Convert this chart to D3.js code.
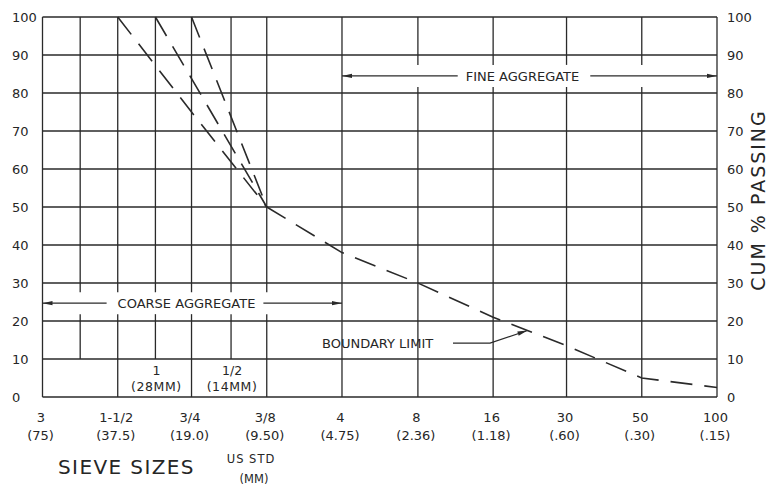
<!DOCTYPE html>
<html><head><meta charset="utf-8">
<script src="https://cdn.jsdelivr.net/npm/d3@7/dist/d3.min.js"></script>
<style>
html,body{margin:0;padding:0;background:#fff;}
svg{display:block;}
text{font-family:"DejaVu Sans",sans-serif;fill:#262626;}
</style></head><body>
<svg id="chart" width="771" height="488"></svg>
<script>
// ---- data ----
const sieveNames = ["3","1-1/2","3/4","3/8","4","8","16","30","50","100"];
const sieveMM = [75, 37.5, 19.0, 9.50, 4.75, 2.36, 1.18, 0.60, 0.30, 0.15];
const mmLabels = ["(75)","(37.5)","(19.0)","(9.50)","(4.75)","(2.36)","(1.18)","(.60)","(.30)","(.15)"];
const midSieveMM = [53, 26.5, 13.2];          // 2", 1", 1/2" intermediate grid lines
const midSieveNames = ["", "1", "1/2"];
const midSieveMMLabels = ["", "(28MM)", "(14MM)"];
const percentTicks = [0,10,20,30,40,50,60,70,80,90,100];

// coarse limits (sieve mm, cumulative % passing)
const limitASizes = [37.5, 19.0, 9.50];  const limitAPassing = [100, 75, 50];
const limitBSizes = [26.5, 9.50];        const limitBPassing = [100, 50];
const limitCSizes = [19.0, 9.50];        const limitCPassing = [100, 50];
// combined boundary limit
const boundarySizes = [9.50, 4.75, 2.36, 1.18, 0.60, 0.30, 0.15];
const boundaryPassing = [50, 38, 30, 21, 13.5, 5, 2.5];

// annotations (data coordinates)
const fineBand = {label:"FINE AGGREGATE", from:4.75, to:0.15, pct:84.5};
const coarseBand = {label:"COARSE AGGREGATE", from:75, to:4.75, pct:24.7};
const boundaryNote = {label:"BOUNDARY LIMIT", textPct:14.2, tipSize:0.86};

// ---- drawing ----
const ink = "#2a2a2a";
const x = d3.scaleLog().domain([75, 0.15]).range([42.5, 717]);
const y = d3.scaleLinear().domain([0, 100]).range([397, 17]);
const svg = d3.select("#chart");

// horizontal grid
svg.append("g").selectAll("line").data(percentTicks).join("line")
  .attr("x1", x(75)).attr("x2", x(0.15))
  .attr("y1", d => y(d)).attr("y2", d => y(d))
  .attr("stroke", ink).attr("stroke-width", 1.6);

// vertical grid with gaps at annotation bands
const bands = [fineBand, coarseBand];
const gapHalf = 11;
function segs(size, pBottom) {
  let s = [[y(100), y(pBottom)]];
  const px = x(size);
  bands.forEach(b => {
    const a = Math.min(x(b.from), x(b.to)), c = Math.max(x(b.from), x(b.to));
    if (px > a + 1 && px < c - 1) {
      const g0 = y(b.pct) - gapHalf, g1 = y(b.pct) + gapHalf;
      const out = [];
      s.forEach(([t, bt]) => {
        if (g1 <= t || g0 >= bt) out.push([t, bt]);
        else { if (g0 > t) out.push([t, g0]); if (g1 < bt) out.push([g1, bt]); }
      });
      s = out;
    }
  });
  return s.map(v => ({x: px, y1: v[0], y2: v[1]}));
}
const vsegs = [];
sieveMM.forEach(m => vsegs.push(...segs(m, 0)));
midSieveMM.forEach(m => vsegs.push(...segs(m, 10)));
svg.append("g").selectAll("line").data(vsegs).join("line")
  .attr("x1", d => d.x).attr("x2", d => d.x)
  .attr("y1", d => d.y1).attr("y2", d => d.y2)
  .attr("stroke", ink).attr("stroke-width", 1.3);

// y axes
const yl = svg.append("g").call(d3.axisLeft(y).tickValues(percentTicks).tickSize(0));
yl.select(".domain").remove();
yl.selectAll("text").attr("x", 12).attr("text-anchor", "start")
  .style("font-family", "DejaVu Sans").style("font-size", "13px").attr("fill", ink);
const yr = svg.append("g").call(d3.axisRight(y).tickValues(percentTicks).tickSize(0));
yr.select(".domain").remove();
yr.selectAll("text").attr("x", 727).attr("text-anchor", "start")
  .style("font-family", "DejaVu Sans").style("font-size", "13px").attr("fill", ink);

// x axis (two rows)
const xa = svg.append("g").attr("transform", "translate(-2,0)")
  .call(d3.axisBottom(x).tickValues(sieveMM).tickSize(0).tickFormat((d, i) => sieveNames[i]));
xa.select(".domain").remove();
xa.selectAll("text").attr("y", 0).attr("dy", null).attr("transform", "translate(0,422)")
  .style("font-family", "DejaVu Sans").style("font-size", "13px").attr("fill", ink);
svg.append("g").selectAll("text").data(sieveMM).join("text")
  .attr("x", d => x(d) - 2).attr("y", 440).attr("text-anchor", "middle")
  .style("font-size", "13px").text((d, i) => mmLabels[i]);

// inner sieve labels in bottom row
const midG = svg.append("g");
midSieveMM.forEach((m, i) => {
  if (!midSieveNames[i]) return;
  midG.append("text").attr("x", x(m) + 1).attr("y", 375).attr("text-anchor", "middle")
    .style("font-size", "12.5px").text(midSieveNames[i]);
  midG.append("text").attr("x", x(m) + 1).attr("y", 391).attr("text-anchor", "middle")
    .style("font-size", "12.5px").style("letter-spacing", "0.6px").text(midSieveMMLabels[i]);
});

// curves
const line = d3.line().x(d => x(d[0])).y(d => y(d[1]));
const curves = [
  d3.zip(limitASizes, limitAPassing),
  d3.zip(limitBSizes, limitBPassing),
  d3.zip(limitCSizes, limitCPassing),
  d3.zip(boundarySizes, boundaryPassing)
];
svg.append("g").selectAll("path").data(curves).join("path")
  .attr("d", line).attr("fill", "none").attr("stroke", ink)
  .attr("stroke-width", 1.6).attr("stroke-dasharray", "22,12");

// arrows
function head(tx, ty, ang) {
  const L = 10, w = 2.2;
  const c = Math.cos(ang), s = Math.sin(ang);
  const bx = tx - L * c, by = ty - L * s;
  svg.append("path").attr("d",
    `M${tx},${ty}L${bx - w * s},${by + w * c}L${bx + w * s},${by - w * c}Z`)
    .attr("fill", ink);
}
function hArrow(xa, xb, yy) {
  svg.append("line").attr("x1", xa).attr("x2", xb).attr("y1", yy).attr("y2", yy)
    .attr("stroke", ink).attr("stroke-width", 1.2);
  head(xb, yy, xb > xa ? 0 : Math.PI);
}
function bandNote(b, textCenter, gapL, gapR, fs) {
  const yy = y(b.pct);
  const t = svg.append("text").attr("x", textCenter).attr("y", yy).attr("dy", "0.36em")
    .attr("text-anchor", "middle").style("font-size", fs).text(b.label);
  const w = t.node().getComputedTextLength();
  const x0 = x(b.from), x1 = x(b.to);
  hArrow(textCenter - w / 2 - gapL, x0, yy);
  hArrow(textCenter + w / 2 + gapR, x1, yy);
}
bandNote(fineBand, 522.5, 8, 11, "13px");
bandNote(coarseBand, 186.5, 11, 8, "13px");

// boundary limit note
const by0 = y(boundaryNote.textPct);
svg.append("text").attr("x", 322).attr("y", by0).attr("dy", "0.36em")
  .style("font-size", "13px").text(boundaryNote.label);
const tipX = x(boundaryNote.tipSize);
const tipY = d3.scaleLog().domain([1.18, 0.60]).range([y(21), y(13.5)])(boundaryNote.tipSize);
svg.append("path").attr("d", `M453,${by0}L490,${by0}L${tipX},${tipY}`)
  .attr("fill", "none").attr("stroke", ink).attr("stroke-width", 1.2);
head(tipX, tipY, Math.atan2(tipY - by0, tipX - 490));

// titles
svg.append("text").attr("x", 58).attr("y", 474)
  .style("font-size", "20px").style("letter-spacing", "1.4px").text("SIEVE SIZES");
svg.append("text").attr("x", 251).attr("y", 463).attr("text-anchor", "middle")
  .style("font-size", "11.5px").style("letter-spacing", "1px").text("US STD");
svg.append("text").attr("x", 254).attr("y", 483).attr("text-anchor", "middle")
  .style("font-size", "11.5px").text("(MM)");
svg.append("text").attr("transform", "translate(765,200) rotate(-90)")
  .attr("text-anchor", "middle").style("font-size", "19px").style("letter-spacing", "2px")
  .text("CUM % PASSING");
</script>
</body></html>
